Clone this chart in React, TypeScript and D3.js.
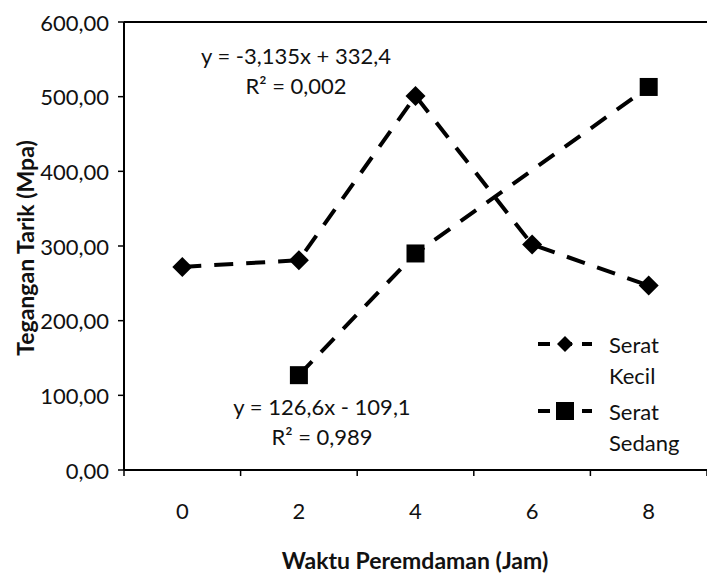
import React from "react";
import * as d3 from "d3";

const categories = ["0", "2", "4", "6", "8"];
const seratKecil: (number | null)[] = [272, 281, 501, 302, 247];
const seratSedang: (number | null)[] = [null, 127, 290, null, 513];
const yTicks = [0, 100, 200, 300, 400, 500, 600];
const seriesNames = ["Serat Kecil", "Serat Sedang"];
const eqKecil = ["y = -3,135x + 332,4", "R² = 0,002"];
const eqSedang = ["y = 126,6x - 109,1", "R² = 0,989"];

const W = 707;
const H = 578;
const FONT = "Lato, 'Open Sans', sans-serif";
const FS = 22;

export default function App() {
  const x = d3.scaleBand<string>().domain(categories).range([124, 707]).padding(0);
  const y = d3.scaleLinear().domain([0, 600]).range([470, 22]);
  const cx = (c: string) => (x(c) as number) + x.bandwidth() / 2;

  const mkPts = (vals: (number | null)[]) =>
    vals
      .map((v, i) => ({ c: categories[i], v }))
      .filter((d) => d.v !== null) as { c: string; v: number }[];

  const line = d3
    .line<{ c: string; v: number }>()
    .x((d) => cx(d.c))
    .y((d) => y(d.v));

  const kPts = mkPts(seratKecil);
  const sPts = mkPts(seratSedang);

  const diamond = (px: number, py: number, r: number) =>
    `M${px},${py - r}L${px + r},${py}L${px},${py + r}L${px - r},${py}Z`;

  const boundaries = categories.map((c) => x(c) as number).concat([x.range()[1]]);

  return (
    <svg width={W} height={H} style={{ position: "absolute", left: 0, top: 0, background: "#fff" }}>
      <rect x={0} y={0} width={W} height={H} fill="#fff" />
      {/* plot frame */}
      <line x1={124} x2={707} y1={y(600)} y2={y(600)} stroke="#000" strokeWidth={2} />
      <line x1={124} x2={124} y1={y(600)} y2={y(0)} stroke="#000" strokeWidth={2} />
      <line x1={124} x2={707} y1={y(0)} y2={y(0)} stroke="#000" strokeWidth={2} />
      {/* y ticks */}
      {yTicks.map((t) => (
        <g key={t}>
          <line x1={118} x2={124} y1={y(t)} y2={y(t)} stroke="#000" strokeWidth={1.5} />
          <text
            x={109}
            y={y(t)}
            textAnchor="end"
            dominantBaseline="central"
            fontFamily={FONT}
            fontSize={FS}
            fill="#111"
          >
            {t.toFixed(2).replace(".", ",")}
          </text>
        </g>
      ))}
      {/* x ticks */}
      {boundaries.map((b, i) => (
        <line key={i} x1={b} x2={b} y1={y(0)} y2={y(0) + 6} stroke="#000" strokeWidth={1.5} />
      ))}
      {categories.map((c) => (
        <text
          key={c}
          x={cx(c)}
          y={y(0) + 40}
          textAnchor="middle"
          dominantBaseline="central"
          fontFamily={FONT}
          fontSize={FS}
          fill="#111"
        >
          {c}
        </text>
      ))}
      {/* axis titles */}
      <text
        x={415}
        y={560}
        textAnchor="middle"
        dominantBaseline="central"
        fontFamily={FONT}
        fontSize={23}
        fontWeight="bold"
        fill="#111"
      >
        Waktu Peremdaman (Jam)
      </text>
      <text
        transform={`translate(25,${248}) rotate(-90)`}
        textAnchor="middle"
        dominantBaseline="central"
        fontFamily={FONT}
        fontSize={23}
        fontWeight="bold"
        fill="#111"
      >
        Tegangan Tarik (Mpa)
      </text>
      {/* series lines */}
      <path d={line(kPts) || ""} fill="none" stroke="#000" strokeWidth={4} strokeDasharray="19 13" />
      <path d={line(sPts) || ""} fill="none" stroke="#000" strokeWidth={4} strokeDasharray="19 13" />
      {kPts.map((d) => (
        <path key={d.c} d={diamond(cx(d.c), y(d.v), 10)} fill="#000" />
      ))}
      {sPts.map((d) => (
        <rect key={d.c} x={cx(d.c) - 9} y={y(d.v) - 9} width={18} height={18} fill="#000" />
      ))}
      {/* equations */}
      {eqKecil.map((t, i) => (
        <text
          key={t}
          x={296}
          y={55 + i * 30}
          textAnchor="middle"
          dominantBaseline="central"
          fontFamily={FONT}
          fontSize={FS}
          fill="#111"
        >
          {t}
        </text>
      ))}
      {eqSedang.map((t, i) => (
        <text
          key={t}
          x={322}
          y={406 + i * 30}
          textAnchor="middle"
          dominantBaseline="central"
          fontFamily={FONT}
          fontSize={FS}
          fill="#111"
        >
          {t}
        </text>
      ))}
      {/* legend */}
      {seriesNames.map((name, i) => {
        const ly = 344 + i * 67;
        const words = name.split(" ");
        return (
          <g key={name}>
            <line x1={538} x2={592} y1={ly} y2={ly} stroke="#000" strokeWidth={4} strokeDasharray="12 10" />
            {i === 0 ? (
              <path d={diamond(565, ly, 8)} fill="#000" />
            ) : (
              <rect x={556} y={ly - 9} width={18} height={18} fill="#000" />
            )}
            {words.map((w, j) => (
              <text
                key={w}
                x={609}
                y={ly + j * 31}
                dominantBaseline="central"
                fontFamily={FONT}
                fontSize={FS}
                fill="#111"
              >
                {w}
              </text>
            ))}
          </g>
        );
      })}
    </svg>
  );
}
